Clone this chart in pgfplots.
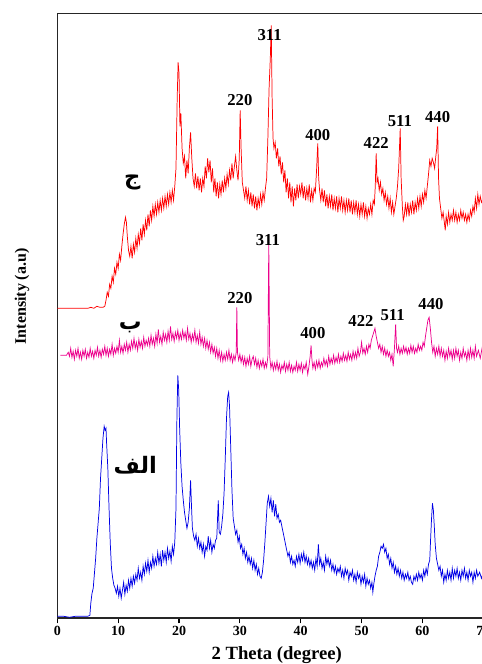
\documentclass[border=0pt]{standalone}
\usepackage{fontspec}
\setmainfont{Liberation Serif}
\newfontfamily\arabicfont[Script=Arabic]{DejaVu Sans}
\TeXXeTstate=1
\usepackage{pgfplots}
\pgfplotsset{compat=1.18}
\begin{document}
\begin{tikzpicture}
\begin{axis}[
  scale only axis,
  width=319.5pt, height=453.75pt,
  xmin=0, xmax=70, ymin=0, ymax=605,
  xtick={0,10,...,70}, xtick pos=bottom, ytick=\empty,
  tick align=outside, major tick length=3.75pt,
  every tick/.style={black, line width=0.8pt},
  axis line style={black!85, line width=1.2pt},
  /pgf/number format/assume math mode=true,
  xticklabel style={font=\bfseries\fontsize{10.5}{12}\selectfont, yshift=1pt},
  xlabel={2 Theta (degree)},
  ylabel={Intensity (a.u)},
  xlabel style={font=\bfseries\fontsize{14}{16}\selectfont, at={(rel axis cs:0.515,0)}, anchor=center, yshift=-27.5pt},
  ylabel style={font=\bfseries\fontsize{12}{14}\selectfont, at={(rel axis cs:0,0.532)}, anchor=center, yshift=26.5pt},
  every axis plot/.append style={line width=0.55pt},
]
% blue (الف)
\addplot[color=blue!90!black] coordinates {
(0,2)(1,2)(2,1)(3,2)(4,2)(5,2)(5.35,3)(5.5,15)(5.7,25)(5.9,30)(6.1,45)(6.3,60)(6.5,80)(6.7,95)(6.9,110)(7.1,140)(7.3,160)(7.5,180)(7.7,192)(7.85,188)(8.0,190)(8.1,175)(8.3,150)(8.5,110)(8.7,75)(8.9,50)(9.1,40)(9.3,33)(9.5,30)(9.7,25)(9.9,32)(10.1,22)(10.3,30)(10.5,20)(10.7,28)(10.9,36)(11.1,24)(11.3,33)(11.5,27)(11.7,38)(11.9,30)(12.1,40)(12.3,32)(12.5,42)(12.7,35)(12.9,44)(13.1,38)(13.3,50)(13.5,40)(13.7,46)(13.9,38)(14.1,52)(14.3,44)(14.5,55)(14.7,47)(14.9,58)(15.1,46)(15.3,56)(15.5,50)(15.7,62)(15.9,52)(16.1,60)(16.3,54)(16.5,66)(16.7,55)(16.9,64)(17.1,52)(17.3,68)(17.5,58)(17.7,66)(17.9,56)(18.1,70)(18.3,60)(18.5,67)(18.7,57)(18.9,72)(19.1,64)(19.3,76)(19.5,110)(19.65,200)(19.8,243)(19.95,228)(20.1,190)(20.3,155)(20.5,132)(20.7,118)(20.9,106)(21.1,98)(21.3,90)(21.5,96)(21.7,110)(21.9,138)(22.05,112)(22.2,90)(22.4,82)(22.6,78)(22.8,84)(23.0,72)(23.2,80)(23.4,70)(23.6,76)(23.8,66)(24.0,74)(24.2,62)(24.4,72)(24.6,68)(24.8,82)(25.0,70)(25.2,78)(25.4,66)(25.6,74)(25.8,70)(26.0,78)(26.2,80)(26.45,118)(26.6,86)(26.8,84)(27.0,92)(27.2,104)(27.4,125)(27.6,160)(27.8,200)(28.0,222)(28.15,226)(28.3,212)(28.5,170)(28.7,128)(28.9,100)(29.1,92)(29.3,84)(29.5,88)(29.7,76)(29.9,82)(30.1,70)(30.3,74)(30.5,64)(30.7,70)(30.9,60)(31.1,66)(31.3,56)(31.5,62)(31.7,54)(31.9,60)(32.1,50)(32.3,58)(32.5,48)(32.7,54)(32.9,44)(33.1,50)(33.3,42)(33.5,40)(33.7,46)(33.9,58)(34.1,75)(34.3,95)(34.5,115)(34.7,122)(34.9,112)(35.1,120)(35.3,106)(35.5,118)(35.7,102)(35.9,114)(36.1,100)(36.3,104)(36.5,96)(36.7,98)(36.9,92)(37.1,86)(37.3,80)(37.5,74)(37.7,68)(37.9,62)(38.1,66)(38.3,56)(38.5,62)(38.7,54)(38.9,58)(39.1,52)(39.3,62)(39.5,56)(39.7,64)(39.9,55)(40.1,64)(40.3,58)(40.5,66)(40.7,56)(40.9,62)(41.1,54)(41.3,60)(41.5,52)(41.7,58)(41.9,50)(42.1,56)(42.3,48)(42.5,60)(42.7,52)(42.9,74)(43.1,54)(43.3,60)(43.5,50)(43.7,56)(43.9,48)(44.1,62)(44.3,54)(44.5,60)(44.7,52)(44.9,58)(45.1,48)(45.3,54)(45.5,46)(45.7,52)(45.9,44)(46.1,50)(46.3,46)(46.5,52)(46.7,42)(46.9,48)(47.1,40)(47.3,50)(47.5,44)(47.7,48)(47.9,38)(48.1,46)(48.3,42)(48.5,48)(48.7,38)(48.9,44)(49.1,36)(49.3,46)(49.5,40)(49.7,44)(49.9,34)(50.1,42)(50.3,36)(50.5,44)(50.7,32)(50.9,40)(51.1,34)(51.3,38)(51.5,30)(51.7,36)(51.85,26)(52.0,34)(52.2,42)(52.4,48)(52.6,52)(52.8,62)(53.0,66)(53.2,72)(53.4,70)(53.6,74)(53.8,66)(54.0,70)(54.2,60)(54.4,64)(54.6,54)(54.8,60)(55.0,50)(55.2,56)(55.4,46)(55.6,52)(55.8,44)(56.0,50)(56.2,42)(56.4,48)(56.6,40)(56.8,46)(57.0,38)(57.2,44)(57.4,40)(57.6,46)(57.8,38)(58.0,42)(58.2,36)(58.4,34)(58.6,42)(58.8,38)(59.0,44)(59.2,38)(59.4,46)(59.6,40)(59.8,44)(60.0,38)(60.2,48)(60.4,42)(60.6,50)(60.8,44)(61.0,54)(61.2,58)(61.35,80)(61.5,100)(61.65,115)(61.8,108)(61.95,92)(62.1,74)(62.3,60)(62.5,54)(62.7,48)(62.9,52)(63.1,42)(63.3,48)(63.5,36)(63.7,44)(63.9,38)(64.1,48)(64.3,40)(64.5,46)(64.7,38)(64.9,50)(65.1,40)(65.3,48)(65.5,42)(65.7,50)(65.9,40)(66.1,46)(66.3,38)(66.5,48)(66.7,42)(66.9,50)(67.1,40)(67.3,46)(67.5,38)(67.7,48)(67.9,42)(68.1,46)(68.3,36)(68.5,46)(68.7,40)(68.9,48)(69.1,42)(69.4,46)(69.7,40)(70.0,46)
};
% magenta (ب)
\addplot[color=magenta] coordinates {
(0.5,263)(1.0,263)(1.5,263)(1.8,266)(2.0,262)(2.2,270)(2.4,261)(2.6,267)(2.8,259)(3.0,268)(3.2,262)(3.4,270)(3.6,260)(3.8,266)(4.0,259)(4.2,268)(4.4,262)(4.6,269)(4.8,260)(5.0,266)(5.2,261)(5.4,270)(5.6,262)(5.8,267)(6.0,260)(6.2,268)(6.4,263)(6.6,271)(6.8,262)(7.0,268)(7.2,261)(7.4,269)(7.6,264)(7.8,272)(8.0,263)(8.2,270)(8.4,262)(8.6,269)(8.8,264)(9.0,274)(9.2,263)(9.4,270)(9.6,265)(9.8,272)(10.0,266)(10.2,278)(10.4,266)(10.6,272)(10.8,265)(11.0,274)(11.2,268)(11.4,276)(11.6,266)(11.8,274)(12.0,268)(12.2,277)(12.4,270)(12.6,280)(12.8,270)(13.0,276)(13.2,268)(13.4,279)(13.6,271)(13.8,277)(14.0,270)(14.2,281)(14.4,272)(14.6,278)(14.8,273)(15.0,280)(15.2,272)(15.4,283)(15.6,274)(15.8,280)(16.0,272)(16.2,284)(16.4,275)(16.6,289)(16.8,276)(17.0,282)(17.2,274)(17.4,286)(17.6,278)(17.8,284)(18.0,276)(18.2,287)(18.4,278)(18.6,292)(18.8,279)(19.0,285)(19.2,277)(19.4,286)(19.6,280)(19.8,288)(20.0,278)(20.2,285)(20.4,279)(20.6,288)(20.8,280)(21.0,286)(21.2,278)(21.4,290)(21.6,279)(21.8,285)(22.0,276)(22.2,284)(22.4,278)(22.6,288)(22.8,276)(23.0,283)(23.2,275)(23.4,286)(23.6,274)(23.8,281)(24.0,272)(24.2,280)(24.4,270)(24.6,278)(24.8,269)(25.0,276)(25.2,266)(25.4,274)(25.6,265)(25.8,271)(26.0,262)(26.2,270)(26.4,260)(26.6,268)(26.8,258)(27.0,266)(27.2,257)(27.4,264)(27.6,258)(27.8,266)(28.0,259)(28.2,268)(28.4,258)(28.6,264)(28.8,256)(29.0,263)(29.2,258)(29.4,266)(29.5,311)(29.6,266)(29.8,258)(30.0,264)(30.2,256)(30.4,262)(30.6,254)(30.8,261)(31.0,252)(31.2,260)(31.4,254)(31.6,262)(31.8,252)(32.0,259)(32.2,262)(32.4,254)(32.6,260)(32.8,251)(33.0,258)(33.2,250)(33.4,257)(33.6,252)(33.8,259)(34.0,250)(34.2,256)(34.4,251)(34.6,262)(34.75,376)(34.9,262)(35.1,250)(35.3,256)(35.5,248)(35.7,255)(35.9,249)(36.1,257)(36.3,248)(36.5,254)(36.7,246)(36.9,253)(37.1,249)(37.3,256)(37.5,247)(37.7,254)(37.9,248)(38.1,256)(38.3,247)(38.5,253)(38.7,246)(38.9,252)(39.1,248)(39.3,256)(39.5,247)(39.7,254)(39.9,248)(40.1,255)(40.3,246)(40.5,253)(40.7,249)(40.9,256)(41.15,244)(41.35,252)(41.55,262)(41.7,273)(41.85,258)(42.0,250)(42.2,256)(42.4,249)(42.6,257)(42.8,251)(43.0,258)(43.2,250)(43.4,256)(43.6,252)(43.8,260)(44.0,253)(44.2,258)(44.4,252)(44.6,262)(44.8,254)(45.0,260)(45.2,255)(45.4,263)(45.6,255)(45.8,261)(46.0,256)(46.2,264)(46.4,256)(46.6,262)(46.8,257)(47.0,265)(47.2,258)(47.4,263)(47.6,257)(47.8,266)(48.0,259)(48.2,264)(48.4,258)(48.6,267)(48.8,260)(49.0,266)(49.2,260)(49.4,270)(49.6,262)(49.8,266)(50.0,276)(50.2,265)(50.4,270)(50.6,264)(50.8,272)(51.0,266)(51.2,274)(51.4,270)(51.6,278)(51.8,282)(52.0,286)(52.2,290)(52.4,282)(52.6,276)(52.8,270)(53.0,274)(53.2,266)(53.4,272)(53.6,264)(53.8,270)(54.0,262)(54.2,268)(54.4,262)(54.6,266)(54.8,258)(55.0,264)(55.2,252)(55.4,270)(55.6,294)(55.75,270)(55.9,266)(56.1,272)(56.3,264)(56.5,270)(56.7,265)(56.9,272)(57.1,266)(57.3,271)(57.5,264)(57.7,270)(57.9,265)(58.1,273)(58.3,266)(58.5,272)(58.7,265)(58.9,270)(59.1,266)(59.3,274)(59.5,268)(59.7,272)(59.9,268)(60.1,276)(60.3,272)(60.5,282)(60.7,290)(60.9,298)(61.1,301)(61.3,290)(61.5,276)(61.7,266)(61.9,272)(62.1,262)(62.3,270)(62.5,264)(62.7,272)(62.9,262)(63.1,270)(63.3,262)(63.5,268)(63.7,258)(63.9,267)(64.1,260)(64.3,270)(64.5,262)(64.7,268)(64.9,259)(65.1,268)(65.3,260)(65.5,270)(65.7,262)(65.9,268)(66.1,258)(66.3,266)(66.5,260)(66.7,270)(66.9,262)(67.1,266)(67.3,258)(67.5,268)(67.7,260)(67.9,270)(68.1,261)(68.3,268)(68.5,260)(68.7,272)(68.9,262)(69.2,268)(69.5,260)(69.8,270)(70.0,266)
};
% red (ج)
\addplot[color=red] coordinates {
(0,310)(1,310)(2,310)(3,310)(4,310)(5,310)(5.5,311)(6,310)(6.5,312)(7,311)(7.5,311)(7.8,312)(8.0,318)(8.2,326)(8.4,322)(8.6,334)(8.8,330)(9.0,342)(9.2,336)(9.4,350)(9.6,344)(9.8,356)(10.0,350)(10.2,364)(10.4,358)(10.6,372)(10.8,384)(11.0,394)(11.2,401)(11.35,396)(11.5,382)(11.7,368)(11.9,362)(12.1,372)(12.3,360)(12.5,374)(12.7,366)(12.9,380)(13.1,370)(13.3,384)(13.5,375)(13.7,390)(13.9,378)(14.1,394)(14.3,384)(14.5,398)(14.7,388)(14.9,404)(15.1,392)(15.3,408)(15.5,398)(15.7,412)(15.9,402)(16.1,414)(16.3,404)(16.5,416)(16.7,406)(16.9,418)(17.1,408)(17.3,420)(17.5,410)(17.7,422)(17.9,412)(18.1,424)(18.3,414)(18.5,426)(18.7,416)(18.9,428)(19.1,418)(19.3,432)(19.5,450)(19.7,520)(19.85,556)(20.0,545)(20.15,492)(20.3,505)(20.5,470)(20.7,455)(20.9,462)(21.1,440)(21.3,458)(21.5,445)(21.7,470)(21.9,486)(22.1,460)(22.3,440)(22.5,432)(22.7,445)(22.9,430)(23.1,442)(23.3,428)(23.5,440)(23.7,426)(23.9,440)(24.1,432)(24.3,452)(24.5,440)(24.7,460)(24.9,446)(25.1,458)(25.3,436)(25.5,450)(25.7,426)(25.9,440)(26.1,422)(26.3,436)(26.5,420)(26.7,434)(26.9,424)(27.1,438)(27.3,426)(27.5,440)(27.7,430)(27.9,444)(28.1,434)(28.3,448)(28.5,438)(28.7,455)(28.9,440)(29.1,452)(29.3,462)(29.5,448)(29.7,438)(29.9,460)(30.05,508)(30.2,470)(30.4,436)(30.6,428)(30.8,420)(31.0,432)(31.2,418)(31.4,428)(31.6,414)(31.8,426)(32.0,412)(32.2,424)(32.4,410)(32.6,422)(32.8,408)(33.0,420)(33.2,412)(33.4,424)(33.6,414)(33.8,426)(34.0,418)(34.2,430)(34.4,440)(34.6,480)(34.8,530)(35.0,560)(35.15,593)(35.3,520)(35.45,480)(35.6,470)(35.8,476)(36.0,460)(36.2,470)(36.4,452)(36.6,462)(36.8,444)(37.0,456)(37.2,436)(37.4,448)(37.6,426)(37.8,440)(38.0,420)(38.2,436)(38.4,416)(38.6,432)(38.8,412)(39.0,430)(39.2,418)(39.4,434)(39.6,420)(39.8,432)(40.0,424)(40.2,436)(40.4,420)(40.6,432)(40.8,418)(41.0,430)(41.2,420)(41.4,434)(41.6,416)(41.8,428)(42.0,418)(42.2,430)(42.4,426)(42.6,448)(42.8,475)(42.95,440)(43.1,428)(43.3,418)(43.5,430)(43.7,416)(43.9,428)(44.1,412)(44.3,424)(44.5,410)(44.7,422)(44.9,412)(45.1,424)(45.3,408)(45.5,420)(45.7,410)(45.9,422)(46.1,406)(46.3,420)(46.5,410)(46.7,422)(46.9,408)(47.1,418)(47.3,406)(47.5,418)(47.7,408)(47.9,420)(48.1,406)(48.3,418)(48.5,404)(48.7,416)(48.9,406)(49.1,418)(49.3,404)(49.5,414)(49.7,402)(49.9,414)(50.1,404)(50.3,416)(50.5,402)(50.7,412)(50.9,400)(51.1,410)(51.3,404)(51.5,414)(51.7,404)(51.9,418)(52.1,414)(52.25,432)(52.4,465)(52.55,436)(52.7,440)(52.9,428)(53.1,436)(53.3,424)(53.5,430)(53.7,418)(53.9,426)(54.1,414)(54.3,422)(54.5,410)(54.7,420)(54.9,406)(55.1,416)(55.3,404)(55.5,412)(55.7,420)(55.9,432)(56.1,450)(56.35,490)(56.5,440)(56.7,412)(56.85,398)(57.0,402)(57.2,414)(57.4,404)(57.6,416)(57.8,402)(58.0,414)(58.2,406)(58.4,418)(58.6,404)(58.8,416)(59.0,408)(59.2,420)(59.4,410)(59.6,422)(59.8,412)(60.0,424)(60.2,416)(60.4,428)(60.6,420)(60.8,432)(61.0,444)(61.2,458)(61.4,452)(61.6,460)(61.8,456)(62.0,450)(62.2,462)(62.35,470)(62.5,492)(62.65,440)(62.8,420)(63.0,410)(63.2,400)(63.4,406)(63.6,396)(63.75,388)(63.9,402)(64.1,394)(64.3,406)(64.5,396)(64.7,404)(64.9,398)(65.1,408)(65.3,398)(65.5,406)(65.7,396)(65.9,404)(66.1,398)(66.3,408)(66.5,400)(66.7,406)(66.9,398)(67.1,404)(67.3,396)(67.5,404)(67.7,398)(67.9,408)(68.1,402)(68.3,412)(68.5,406)(68.7,420)(68.9,410)(69.1,424)(69.3,414)(69.5,422)(69.7,416)(70.0,420)
};
% peak labels
\begin{scope}[every node/.style={font=\bfseries\fontsize{12.5}{14}\selectfont, inner sep=0pt}]
\node at (axis cs:30.0,518) {220};
\node at (axis cs:34.9,583) {311};
\node at (axis cs:42.8,483) {400};
\node at (axis cs:52.4,475) {422};
\node at (axis cs:56.3,497) {511};
\node at (axis cs:62.5,501) {440};
\node at (axis cs:30.0,320) {220};
\node at (axis cs:34.6,378) {311};
\node at (axis cs:42.0,285) {400};
\node at (axis cs:49.9,297) {422};
\node at (axis cs:55.1,303) {511};
\node at (axis cs:61.4,314) {440};
\end{scope}
\begin{scope}[every node/.style={font=\arabicfont\bfseries\fontsize{17}{20}\selectfont, inner sep=0pt}]
\node at (axis cs:12.3,436) {\beginR ج\endR};
\node at (axis cs:12.0,291) {\beginR ب\endR};
\node at (axis cs:12.8,153) {\beginR الف\endR};
\end{scope}
\coordinate (SW) at (rel axis cs:0,0);
\coordinate (NE) at (rel axis cs:1,1);
\end{axis}
\pgfresetboundingbox
\path[use as bounding box] ([xshift=-43pt,yshift=-34.3pt]SW) rectangle ([xshift=-1.7pt,yshift=10pt]NE);
\end{tikzpicture}
\end{document}
